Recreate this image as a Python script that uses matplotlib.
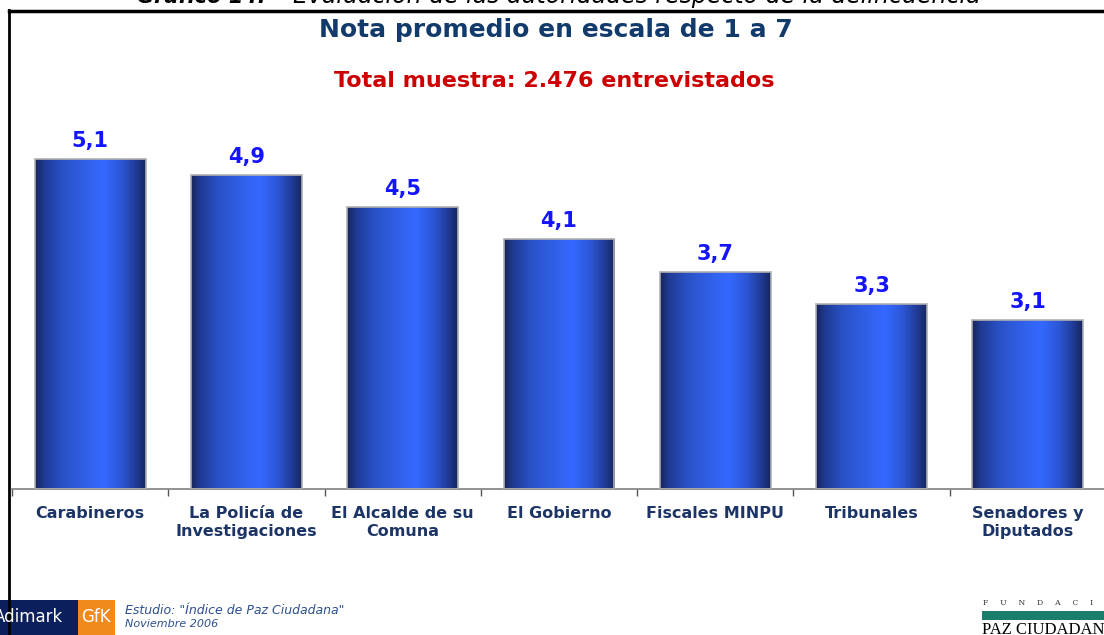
import numpy as np
import matplotlib
matplotlib.use("Agg")
import matplotlib.pyplot as plt
from matplotlib.colors import LinearSegmentedColormap
from matplotlib.lines import Line2D
from matplotlib.patches import Rectangle

categories = ["Carabineros", "La Policía de\nInvestigaciones", "El Alcalde de su\nComuna",
              "El Gobierno", "Fiscales MINPU", "Tribunales", "Senadores y\nDiputados"]
values = [5.1, 4.9, 4.5, 4.1, 3.7, 3.3, 3.1]
value_labels = ["5,1", "4,9", "4,5", "4,1", "3,7", "3,3", "3,1"]

W, H = 1104, 635
fig = plt.figure(figsize=(W / 100, H / 100), dpi=100)
fig.patch.set_facecolor("white")

def fx(px):
    return px / W

def fy(py):
    return 1 - py / H

# axes: baseline at y=489 px (value 1), 80.5 px per unit
ax = fig.add_axes([fx(12), fy(489), 1094 / W, 6 * 80.5 / H])
ax.set_xlim(-0.5, len(categories) - 0.5)
ax.set_ylim(1, 7)
ax.set_facecolor("none")
for s in ["left", "right", "top"]:
    ax.spines[s].set_visible(False)
ax.spines["bottom"].set_color("#7f7f7f")
ax.spines["bottom"].set_linewidth(1.2)
ax.set_yticks([])
ax.set_xticks(np.arange(len(categories) + 1) - 0.5, minor=True)
ax.set_xticks(np.arange(len(categories)))
ax.set_xticklabels(categories, fontsize=11.5, fontweight="bold", color="#1d3566",
                   linespacing=1.3, va="top")
ax.tick_params(axis="x", which="major", length=0, pad=12)
ax.tick_params(axis="x", which="minor", length=5, color="#555555", width=1)

cmap = LinearSegmentedColormap.from_list("bar", [
    (0.0, "#16265a"), (0.08, "#1f3a92"), (0.25, "#2a52c8"), (0.5, "#3263ef"),
    (0.62, "#3468ff"), (0.78, "#2c56d6"), (0.92, "#203a92"), (1.0, "#16265c")])
grad = np.linspace(0, 1, 256).reshape(1, -1)

bw = 0.71
bars = ax.bar(range(len(values)), [v - 1 for v in values], bottom=1, width=bw,
              color="none", edgecolor="#b0b0b0", linewidth=1.2, zorder=3)
for i, (b, v) in enumerate(zip(bars, values)):
    im = ax.imshow(grad, cmap=cmap, aspect="auto",
                   extent=(b.get_x(), b.get_x() + b.get_width(), 1, v), zorder=2)
    im.set_clip_path(b)
    ax.text(i, v + 0.1, value_labels[i], ha="center", va="bottom",
            fontsize=15, fontweight="bold", color="#1414ff")
ax.set_xlim(-0.5, len(categories) - 0.5)
ax.set_ylim(1, 7)

# frame
fig.add_artist(Line2D([fx(9), fx(9)], [fy(10), 0], color="black", lw=2))
fig.add_artist(Line2D([fx(9), 1], [fy(10.5), fy(10.5)], color="black", lw=2.5))

# caption on top (cut by the picture edge, as in the reference)
fig.text(fx(266), fy(3), "Gráfico 14:", fontsize=15, fontstyle="italic", fontweight="bold",
         ha="right", va="baseline", color="black")
fig.text(fx(293), fy(3), "Evaluación de las autoridades respecto de la delincuencia",
         fontsize=17, fontstyle="italic", ha="left", va="baseline", color="black")

fig.text(fx(556), fy(30), "Nota promedio en escala de 1 a 7", fontsize=18, fontweight="bold",
         ha="center", va="center", color="#123a6a")
fig.text(fx(554), fy(81), "Total muestra: 2.476 entrevistados", fontsize=16, fontweight="bold",
         ha="center", va="center", color="#cc0000")

# bottom left logo
fig.add_artist(Rectangle((0, 0), fx(78), fy(600), transform=fig.transFigure,
                         facecolor="#0b1f5c", edgecolor="none"))
fig.add_artist(Rectangle((fx(78), 0), fx(37), fy(600), transform=fig.transFigure,
                         facecolor="#f08a1c", edgecolor="none"))
fig.text(fx(-6), fy(617), "Adimark", fontsize=12, color="white", ha="left", va="center")
fig.text(fx(81), fy(617), "GfK", fontsize=12, color="white", ha="left", va="center")
fig.text(fx(125), fy(611), "Estudio: \"Índice de Paz Ciudadana\"", fontsize=9,
         fontstyle="italic", color="#2c4f8f", ha="left", va="center")
fig.text(fx(125), fy(624), "Noviembre 2006", fontsize=8, fontstyle="italic",
         color="#2c4f8f", ha="left", va="center")

# bottom right logo
fig.text(fx(983), fy(603), "F     U     N     D     A     C     I     O     N", fontsize=5.5,
         family="DejaVu Serif", color="#333333", ha="left", va="center")
fig.add_artist(Rectangle((fx(982), fy(620)), fx(130), 9 / H, transform=fig.transFigure,
                         facecolor="#1b7d6b", edgecolor="none"))
fig.text(fx(982), fy(630), "PAZ CIUDADANA", fontsize=12, family="Liberation Serif",
         color="black", ha="left", va="center")

fig.savefig("out.png", dpi=100, facecolor="white")
